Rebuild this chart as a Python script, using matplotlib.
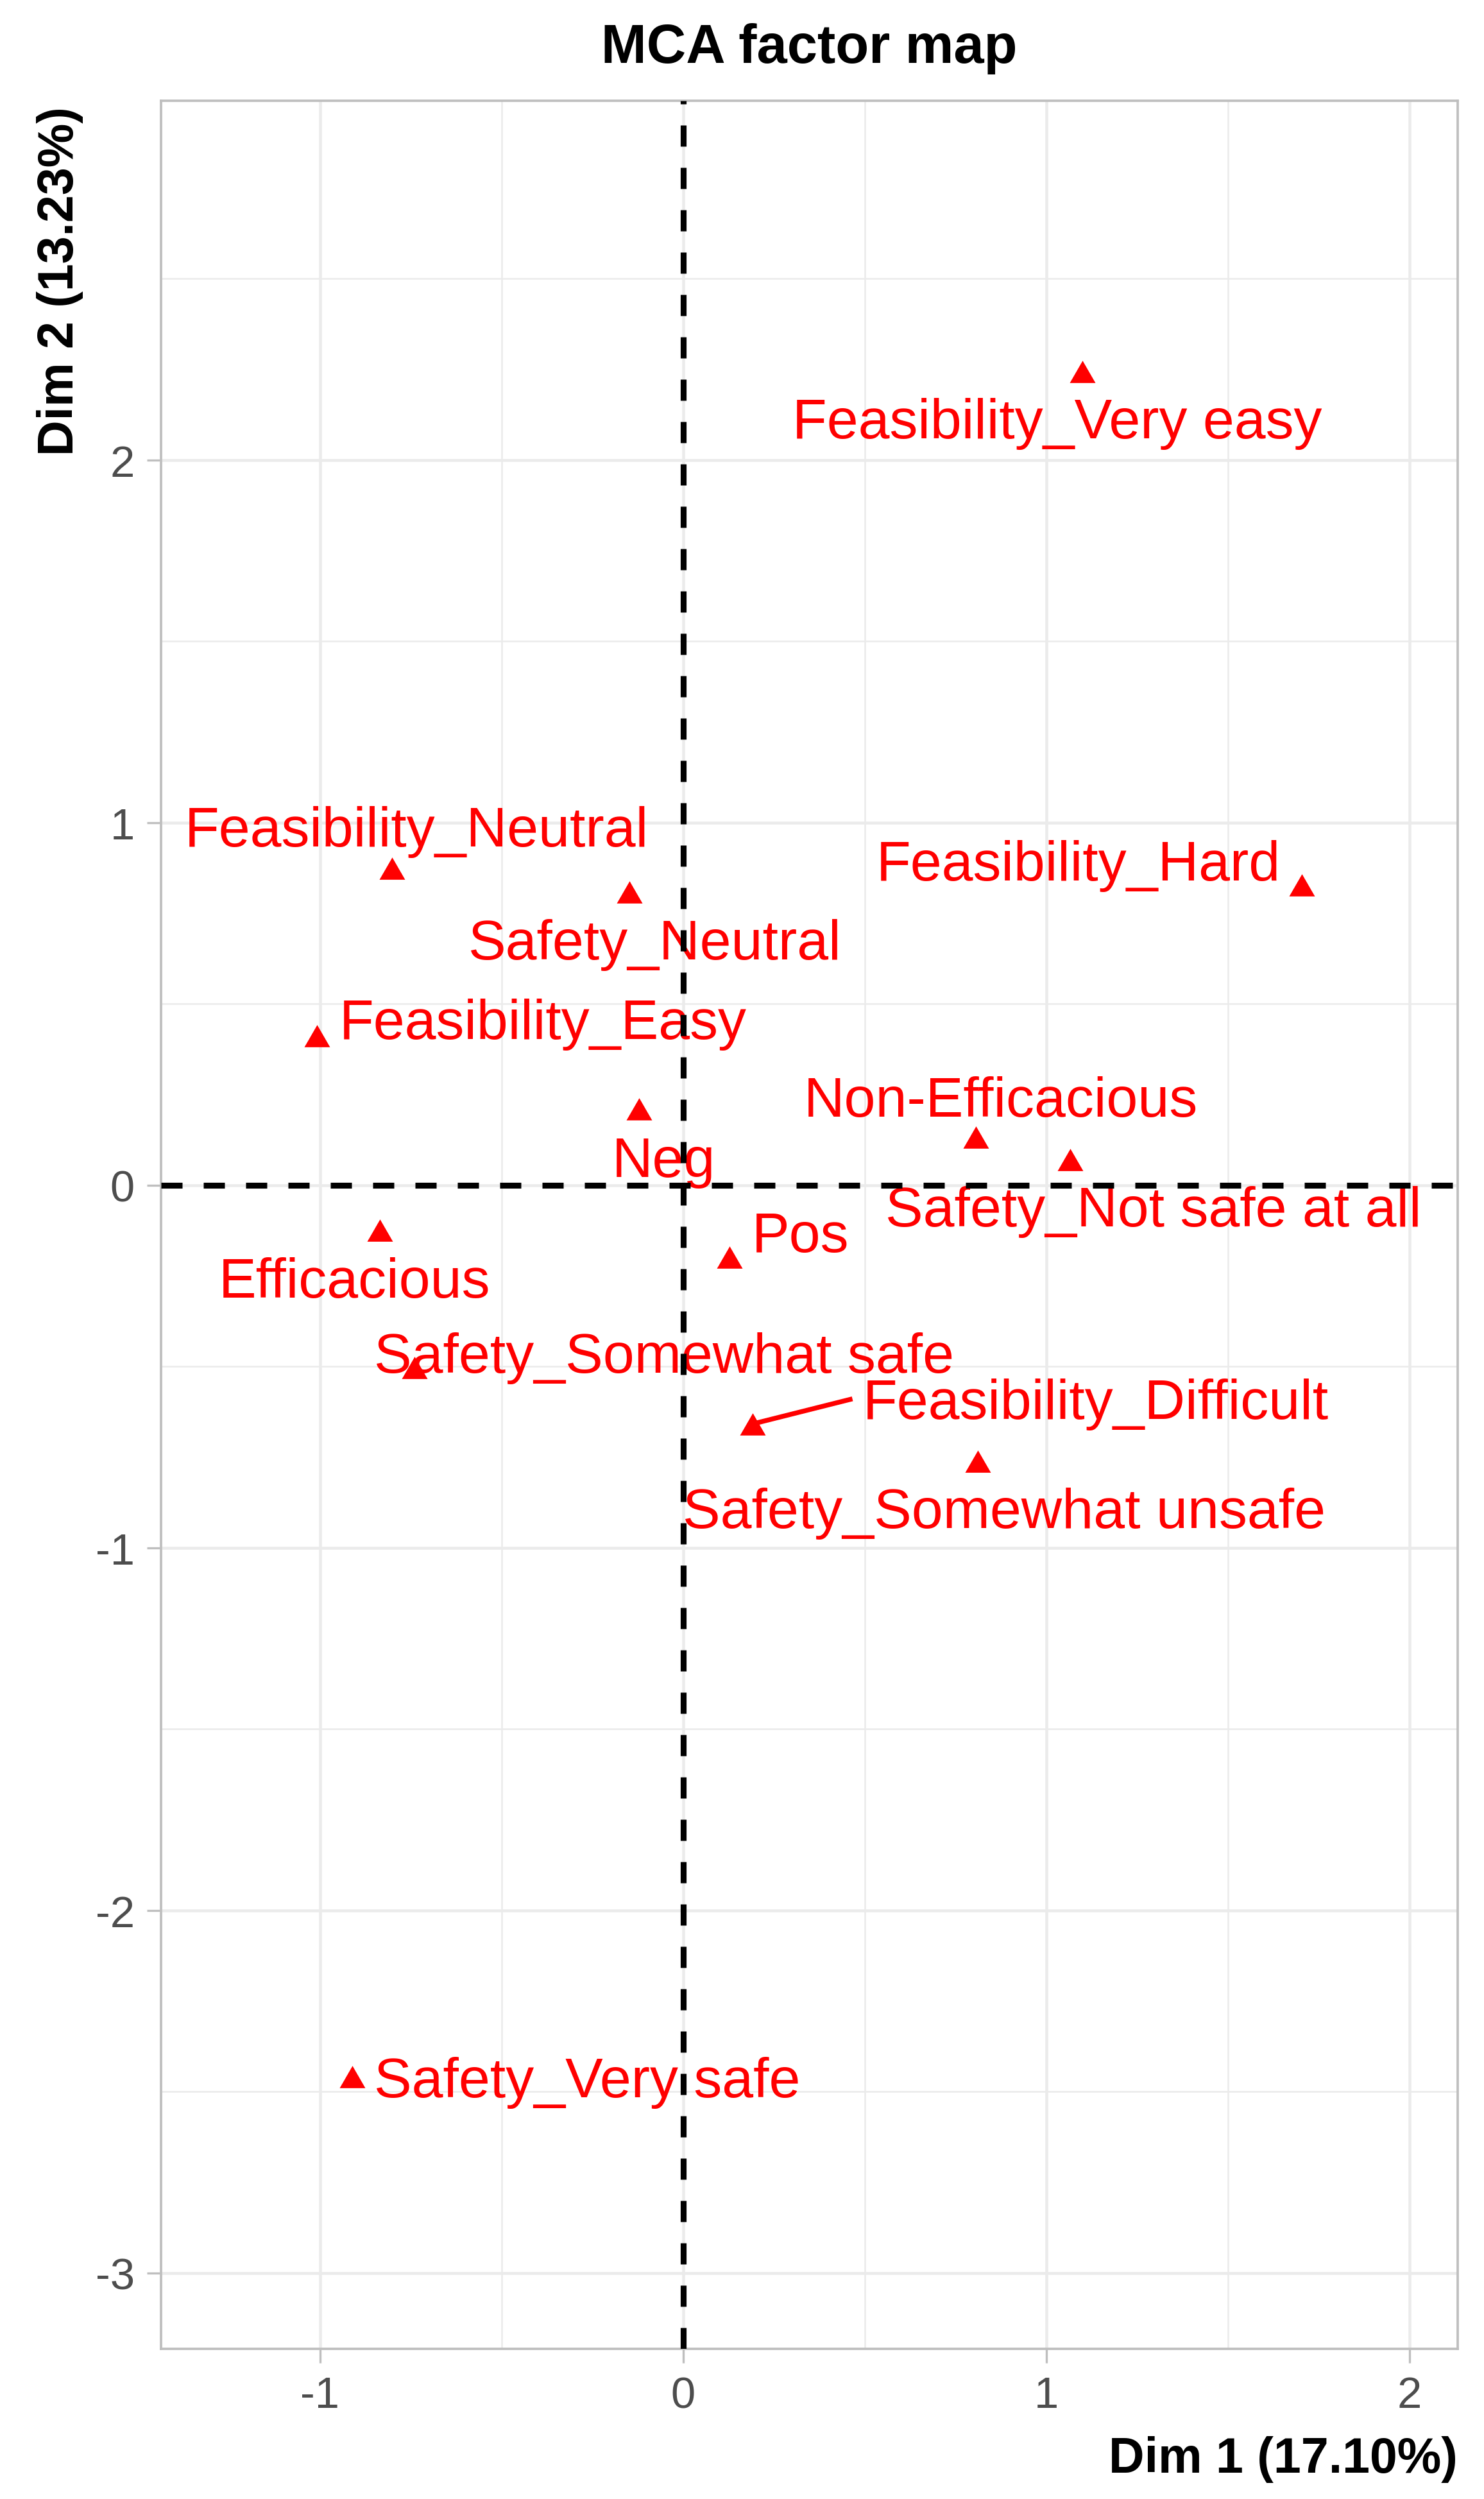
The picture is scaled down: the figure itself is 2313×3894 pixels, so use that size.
import matplotlib
matplotlib.use("Agg")
import matplotlib.pyplot as plt
from matplotlib.ticker import MultipleLocator

plt.rcParams['font.family'] = ['Liberation Sans', 'DejaVu Sans']
plt.rcParams['axes.unicode_minus'] = False

# MCA category coordinates (Dim 1, Dim 2)
categories = ["Feasibility_Very easy", "Feasibility_Hard", "Feasibility_Neutral",
              "Safety_Neutral", "Feasibility_Easy", "Neg", "Non-Efficacious",
              "Safety_Not safe at all", "Efficacious", "Pos", "Safety_Somewhat safe",
              "Feasibility_Difficult", "Safety_Somewhat unsafe", "Safety_Very safe"]
dim1 = [1.099, 1.704, -0.802, -0.149, -1.009, -0.122, 0.806,
        1.065, -0.836, 0.128, -0.740, 0.192, 0.811, -0.911]
dim2 = [2.244, 0.828, 0.875, 0.809, 0.413, 0.210, 0.132,
        0.071, -0.124, -0.198, -0.503, -0.658, -0.762, -2.458]

x_ticks = [-1, 0, 1, 2]
y_ticks = [-3, -2, -1, 0, 1, 2]
x_title = "Dim 1 (17.10%)"
y_title = "Dim 2 (13.23%)"
title = "MCA factor map"

# label placement (repel-like offsets from each point, baseline centre)
label_offset = {
    "Feasibility_Very easy": (-0.069, -0.182),
    "Feasibility_Hard": (-0.615, 0.015),
    "Feasibility_Neutral": (0.068, 0.062),
    "Safety_Neutral": (0.071, -0.184),
    "Feasibility_Easy": (0.623, -0.008),
    "Neg": (0.068, -0.185),
    "Non-Efficacious": (0.069, 0.059),
    "Safety_Not safe at all": (0.230, -0.183),
    "Efficacious": (-0.070, -0.185),
    "Pos": (0.194, 0.015),
    "Safety_Somewhat safe": (0.688, -0.013),
    "Feasibility_Difficult": (0.944, 0.016),
    "Safety_Somewhat unsafe": (0.072, -0.181),
    "Safety_Very safe": (0.647, -0.055),
}
segment_offset = {"Feasibility_Difficult": (0.274, 0.069)}

W, H, DPI = 2313, 3895, 300
fig = plt.figure(figsize=(W / DPI, H / DPI), dpi=DPI)
ax = fig.add_axes([251 / W, 1 - 3661 / H, (2272 - 251) / W, (3661 - 158) / H])

ax.set_xlim(-1.438, 2.133)
ax.set_ylim(-3.209, 2.991)

ax.xaxis.set_major_locator(plt.FixedLocator(x_ticks))
ax.yaxis.set_major_locator(plt.FixedLocator(y_ticks))
ax.xaxis.set_minor_locator(MultipleLocator(0.5))
ax.yaxis.set_minor_locator(MultipleLocator(0.5))
ax.set_xticklabels([str(v) for v in x_ticks])
ax.set_yticklabels([str(v) for v in y_ticks])

ax.set_axisbelow(True)
ax.grid(True, which='major', color='#EBEBEB', linewidth=1.1)
ax.grid(True, which='minor', color='#EBEBEB', linewidth=0.6)
for s in ax.spines.values():
    s.set_color('#BFBFBF')
    s.set_linewidth(0.9)
ax.tick_params(which='major', length=5.3, width=0.8, color='#BFBFBF',
               labelsize=16.5, labelcolor='#4D4D4D', pad=4.6)
ax.tick_params(which='minor', length=0)

tri = [(0, 0.866), (-1, -0.866), (1, -0.866)]

for name, x, y in zip(categories, dim1, dim2):
    if name in segment_offset:
        sx, sy = segment_offset[name]
        ax.plot([x + sx, x], [y + sy, y], color='red', linewidth=1.8,
                solid_capstyle='butt', zorder=3)
    dx, dy = label_offset[name]
    ax.text(x + dx, y + dy, name, color='red', fontsize=21.1,
            ha='center', va='baseline', zorder=3)

ax.scatter(dim1, dim2, marker=tri, s=9.6 ** 2, color='red', linewidths=0, zorder=4)

ax.axhline(0, color='black', linewidth=2.2, linestyle=(0, (3.6, 3.6)), zorder=5)
ax.axvline(0, color='black', linewidth=2.2, linestyle=(0, (3.6, 3.6)), zorder=5)

ax.text(0.5, 1 + 60 / 3503, title, transform=ax.transAxes, ha='center',
        va='baseline', fontsize=20.4, fontweight='bold')
ax.text(1, -192 / 3503, x_title, transform=ax.transAxes, ha='right',
        va='baseline', fontsize=18.5, fontweight='bold')
ax.text(-157 / 2021, 1 - 8 / 3503, y_title, transform=ax.transAxes, ha='center',
        va='top', rotation=90, fontsize=18.5, fontweight='bold')

fig.savefig("out.png", dpi=DPI, facecolor='white')
